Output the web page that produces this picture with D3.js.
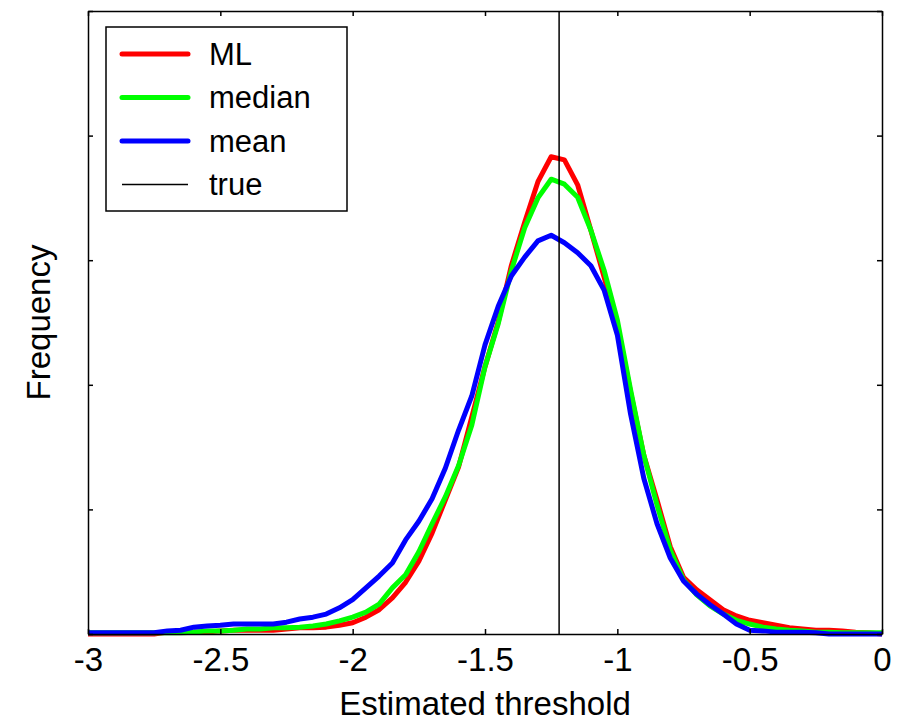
<!DOCTYPE html>
<html>
<head>
<meta charset="utf-8">
<script src="https://cdn.jsdelivr.net/npm/d3@7"></script>
<style>
  html, body { margin: 0; padding: 0; background: #fff; }
  svg { display: block; font-family: "Liberation Sans", Arial, sans-serif; }
</style>
</head>
<body>
<svg id="chart"></svg>
<script>
// bin centres of the histogram (estimated threshold)
const bins = [
  -3.00, -2.95, -2.90, -2.85, -2.80, -2.75, -2.70, -2.65, -2.60, -2.55,
  -2.50, -2.45, -2.40, -2.35, -2.30, -2.25, -2.20, -2.15, -2.10, -2.05,
  -2.00, -1.95, -1.90, -1.85, -1.80, -1.75, -1.70, -1.65, -1.60, -1.55,
  -1.50, -1.45, -1.40, -1.35, -1.30, -1.25, -1.20, -1.15, -1.10, -1.05,
  -1.00, -0.95, -0.90, -0.85, -0.80, -0.75, -0.70, -0.65, -0.60, -0.55,
  -0.50, -0.45, -0.40, -0.35, -0.30, -0.25, -0.20, -0.15, -0.10, -0.05,
  0.00
];

// frequencies (arbitrary units)
const mlFreq = [
  0, 0, 0, 0, 0, 0, 3, 3, 3, 3,
  5, 6, 6, 6, 6, 8, 10, 10, 11, 14,
  18, 27, 39, 58, 83, 117, 162, 215, 268, 348,
  429, 501, 592, 661, 726, 766, 761, 721, 648, 573,
  496, 388, 287, 215, 140, 91, 71, 55, 39, 29,
  22, 18, 14, 10, 8, 6, 6, 5, 3, 2,
  0
];
const medianFreq = [
  2, 2, 2, 2, 2, 2, 2, 2, 3, 5,
  5, 6, 8, 8, 10, 10, 11, 13, 16, 21,
  27, 35, 48, 74, 95, 132, 177, 220, 270, 335,
  429, 498, 584, 652, 700, 730, 722, 701, 648, 584,
  504, 392, 287, 207, 135, 87, 63, 45, 32, 22,
  16, 11, 8, 6, 5, 3, 3, 2, 2, 2,
  2
];
const meanFreq = [
  2, 2, 2, 2, 2, 2, 5, 6, 11, 13,
  14, 16, 16, 16, 16, 19, 24, 27, 32, 42,
  55, 74, 93, 114, 151, 181, 217, 266, 327, 382,
  464, 526, 575, 605, 631, 640, 628, 612, 591, 552,
  480, 353, 250, 177, 122, 85, 64, 47, 32, 16,
  6, 5, 3, 3, 3, 2, 0, 0, 0, 0,
  0
];
const trueThreshold = -1.22;

const seriesNames = ["ML", "median", "mean"];
const seriesColors = ["#ff0000", "#00ff00", "#0000ff"];
const xTicks = [-3, -2.5, -2, -1.5, -1, -0.5, 0];
const yTicks = [0, 200, 400, 600, 800, 1000];

const width = 901;
const height = 721;
const margin = { top: 11, right: 19, bottom: 87, left: 88 };

const svg = d3.select("#chart")
  .attr("width", width)
  .attr("height", height);

const x = d3.scaleLinear()
  .domain([-3, 0])
  .range([margin.left, width - margin.right]);

const y = d3.scaleLinear()
  .domain([0, 1000])
  .range([height - margin.bottom, margin.top]);

const series = [mlFreq, medianFreq, meanFreq].map((vals, i) => ({
  name: seriesNames[i],
  color: seriesColors[i],
  points: bins.map((b, j) => [b, vals[j]])
}));

const line = d3.line()
  .x(d => x(d[0]))
  .y(d => y(d[1]));

// curves: red, then green, then blue on top
svg.append("g")
  .attr("fill", "none")
  .attr("stroke-width", 5)
  .attr("stroke-linejoin", "round")
  .selectAll("path")
  .data(series)
  .join("path")
  .attr("stroke", d => d.color)
  .attr("d", d => line(d.points));

// true threshold
svg.append("line")
  .attr("x1", x(trueThreshold))
  .attr("x2", x(trueThreshold))
  .attr("y1", y(0))
  .attr("y2", y(1000))
  .attr("stroke", "#000")
  .attr("stroke-width", 1.5);

// axes, matlab style: ticks inside, box on
const tickLen = 5;
const xAxis = d3.axisBottom(x).tickValues(xTicks).tickSizeInner(-tickLen).tickSizeOuter(0)
  .tickPadding(14).tickFormat(d => String(d)); // plain hyphen minus like the original
const xAxisTop = d3.axisTop(x).tickValues(xTicks).tickSizeInner(-tickLen).tickSizeOuter(0)
  .tickFormat("");
const yAxis = d3.axisLeft(y).tickValues(yTicks).tickSizeInner(-tickLen).tickSizeOuter(0)
  .tickFormat("");
const yAxisRight = d3.axisRight(y).tickValues(yTicks).tickSizeInner(-tickLen).tickSizeOuter(0)
  .tickFormat("");

function styleAxis(g) {
  g.selectAll("path, line").attr("stroke", "#000").attr("stroke-width", 1.5);
  g.selectAll("text")
    .attr("fill", "#000")
    .style("font-size", "33px");
}

svg.append("g")
  .attr("transform", `translate(0,${y(0)})`)
  .call(xAxis)
  .call(styleAxis);

svg.append("g")
  .attr("transform", `translate(0,${y(1000)})`)
  .call(xAxisTop)
  .call(styleAxis);

svg.append("g")
  .attr("transform", `translate(${x(-3)},0)`)
  .call(yAxis)
  .call(styleAxis);

svg.append("g")
  .attr("transform", `translate(${x(0)},0)`)
  .call(yAxisRight)
  .call(styleAxis);

// axis labels
svg.append("text")
  .attr("x", (x(-3) + x(0)) / 2)
  .attr("y", 715)
  .attr("text-anchor", "middle")
  .style("font-size", "33px")
  .text("Estimated threshold");

svg.append("text")
  .attr("transform", `translate(50,${(y(0) + y(1000)) / 2}) rotate(-90)`)
  .attr("text-anchor", "middle")
  .style("font-size", "33px")
  .text("Frequency");

// legend
const legend = svg.append("g").attr("transform", "translate(106,27)");

legend.append("rect")
  .attr("width", 241)
  .attr("height", 184)
  .attr("fill", "#fff")
  .attr("stroke", "#000")
  .attr("stroke-width", 1.5);

const legendItems = series.map(s => ({ name: s.name, color: s.color, w: 5 }))
  .concat([{ name: "true", color: "#000", w: 1.5 }]);

const item = legend.selectAll("g.item")
  .data(legendItems)
  .join("g")
  .attr("class", "item")
  .attr("transform", (d, i) => `translate(0,${27 + i * 43.5})`);

item.append("line")
  .attr("x1", 16)
  .attr("x2", 82)
  .attr("stroke", d => d.color)
  .attr("stroke-width", d => d.w)
  .attr("stroke-linecap", d => d.w > 2 ? "round" : "butt");

item.append("text")
  .attr("x", 103)
  .attr("dy", "0.35em")
  .style("font-size", "31px")
  .text(d => d.name);
</script>
</body>
</html>
